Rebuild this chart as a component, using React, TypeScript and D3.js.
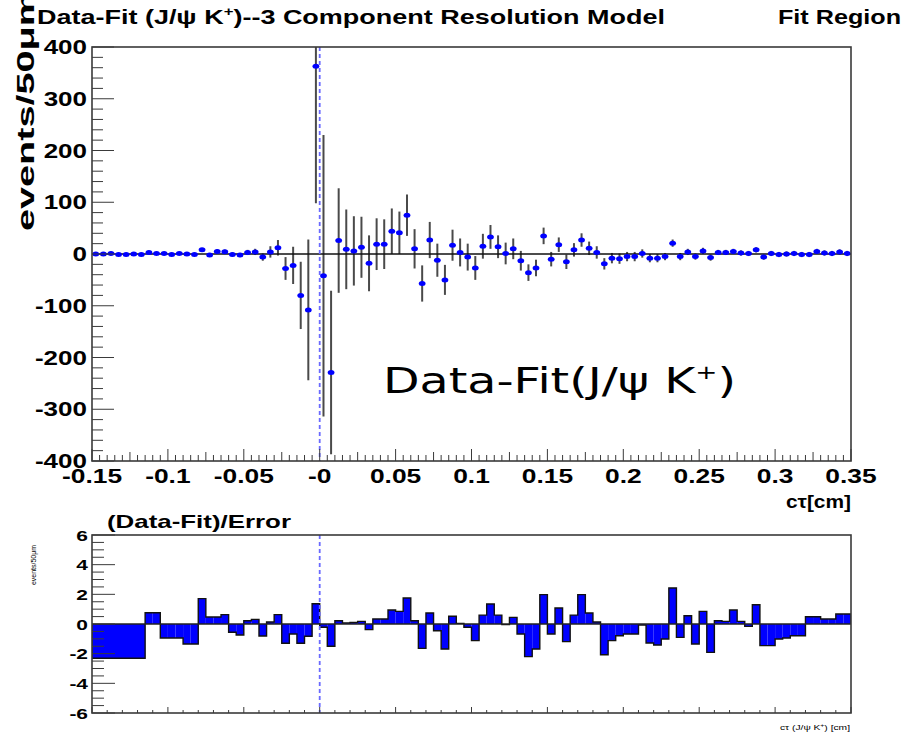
import React from 'react';
import * as d3 from 'd3';

// ---------- data ----------
const BIN_START = -0.15;
const BIN_WIDTH = 0.005;

// Top panel: Data - Fit per 50um bin (100 bins from -0.15 to 0.35)
const fitResidual = [
  0, 0, 1, -1, -1, 0, -1, 3, 1, 1,
  -1, 1, 0, -1, 8, -2, 5, 4.5, -1, -2,
  3, 4, -6, 4, 12, -28, -22, -80, -108, 363,
  -42, -229, 26, 9, 6, 13, -18, 19, 19, 44,
  41, 75, 10, -57, 27, -12, -50, 17, 3, -6,
  -27, 15, 33, 14, 1, 10, -13, -36, -27, 35,
  -10, 18, -15, 8, 27, 11, 3, -19, -8, -9,
  -5, -5, 1, -8, -8, -5, 21, -5, 4, -5,
  6, -7, 3, 3, 5, 2, 1, 8, -6, 1,
  -1, 0, 1, -1, -1, 5, 2, 1, 4, 1,
];
const fitError = [
  3, 3, 3, 3, 3, 3, 3, 3, 3, 3,
  3, 3, 3, 3, 3, 3, 4, 4, 4, 4,
  5, 6, 7, 11, 15, 22, 36, 65, 136, 265,
  272, 158, 101, 77, 67, 59, 54, 50, 48, 44,
  41, 40, 38, 35, 35, 32, 29, 30, 27, 26,
  23, 24, 23, 22, 21, 20, 19, 16, 16, 16,
  14, 14, 14, 13, 13, 13, 12, 11, 10, 10,
  9, 9, 8, 8, 8, 7, 7, 7, 6, 6,
  6, 6, 5, 5, 5, 5, 5, 5, 5, 5,
  5, 5, 5, 5, 5, 5, 5, 5, 5, 5,
];

// Bottom panel: (Data-Fit)/Error, first bin merged, then 50um bins from -0.115
const PULL_WIDE_BIN = [-0.15, -0.115];
const PULL_WIDE_VALUE = -2.31;
const pullValues = [
  0.76, 0.76, -0.94, -0.94, -0.94, -1.35, -1.35, 1.71, 0.47, 0.47,
  0.63, -0.56, -0.74, 0.22, 0.31, -0.81, 0.13, 0.63, -1.3, -0.67,
  -1.3, -0.83, 1.37, -0.22, -1.5, 0.22, 0.07, 0.11, 0.18, -0.38,
  0.34, 0.34, 0.94, 0.85, 1.75, 0.22, -1.64, 0.74, -0.45, -1.69,
  0.52, 0.04, -0.22, -1.12, 0.6, 1.35, 0.6, -0.04, 0.45, -0.67,
  -2.2, -1.69, 1.98, -0.67, 1.08, -1.19, 0.6, 1.98, 0.74, 0.13,
  -2.07, -1.12, -0.79, -0.67, -0.67, -0.07, -1.28, -1.42, -1.01, 2.43,
  -0.9, 0.56, -1.35, 0.85, -1.91, 0.22, 0.18, 0.94, 0.18, -0.16,
  1.3, -1.46, -1.46, -1.01, -0.94, -0.79, -0.79, 0.49, 0.49, 0.34,
  0.34, 0.67, 0.67,
];

const xTickValues = [-0.15, -0.1, -0.05, 0, 0.05, 0.1, 0.15, 0.2, 0.25, 0.3, 0.35];
const xTickLabels = ['-0.15', '-0.1', '-0.05', '-0', '0.05', '0.1', '0.15', '0.2', '0.25', '0.3', '0.35'];
const yTopTicks = [400, 300, 200, 100, 0, -100, -200, -300, -400];
const yTopLabels = ['400', '300', '200', '100', '0', '-100', '-200', '-300', '-400'];
const yBotTicks = [6, 4, 2, 0, -2, -4, -6];
const yBotLabels = ['6', '4', '2', '0', '-2', '-4', '-6'];

// ---------- layout ----------
const W = 904, H = 734;
const L = 92, R = 851;
const T1 = 47, B1 = 461;
const T2 = 535, B2 = 713;
const ROOT_FONT = "'Liberation Sans', Arial, Helvetica, sans-serif";
const FRAME = '#3a3a3a';
const DASH_BLUE = '#6a6aff';

const x = d3.scaleLinear().domain([-0.15, 0.35]).range([L, R]);
const yTop = d3.scaleLinear().domain([-400, 400]).range([B1, T1]);
const yBot = d3.scaleLinear().domain([-6, 6]).range([B2, T2]);

type STProps = { x: number; y: number; sx?: number; rot?: number; anchor?: string; size: number; bold?: boolean; children: React.ReactNode; family?: string };
function SText({ x: tx, y: ty, sx = 1.3, rot = 0, anchor = 'start', size, bold = true, children, family = ROOT_FONT }: STProps) {
  return (
    <text
      transform={`translate(${tx},${ty}) rotate(${rot}) scale(${sx},1)`}
      textAnchor={anchor as any}
      fontFamily={family}
      fontWeight={bold ? 'bold' : 'normal'}
      fontSize={size}
      fill="#000"
    >
      {children}
    </text>
  );
}

export default function App() {
  const centers = fitResidual.map((_, i) => BIN_START + BIN_WIDTH * (i + 0.5));

  const yTopMinor = d3.range(-400, 401, 20);
  const xTopMinor = d3.range(0, 101).map((i) => -0.15 + i * 0.005);
  const xBotMinor = d3.range(0, 51).map((i) => -0.15 + i * 0.01);
  const yBotMinor = d3.range(-6, 6.01, 0.5);

  const pullBins: { x0: number; x1: number; v: number }[] = [
    { x0: PULL_WIDE_BIN[0], x1: PULL_WIDE_BIN[1], v: PULL_WIDE_VALUE },
    ...pullValues.map((v, i) => ({
      x0: PULL_WIDE_BIN[1] + i * BIN_WIDTH,
      x1: PULL_WIDE_BIN[1] + (i + 1) * BIN_WIDTH,
      v,
    })),
  ];
  let step = `M${x(pullBins[0].x0)},${yBot(0)}`;
  pullBins.forEach((b) => {
    step += `L${x(b.x0)},${yBot(b.v)}L${x(b.x1)},${yBot(b.v)}`;
  });
  step += `L${x(pullBins[pullBins.length - 1].x1)},${yBot(0)}`;

  return (
    <svg width={W} height={H} style={{ position: 'absolute', left: 0, top: 0, background: '#fff' }}>
      <defs>
        <clipPath id="clipTop">
          <rect x={L} y={T1} width={R - L} height={B1 - T1} />
        </clipPath>
        <clipPath id="clipBot">
          <rect x={L} y={T2} width={R - L} height={B2 - T2} />
        </clipPath>
      </defs>
      <rect x={0} y={0} width={W} height={H} fill="#fff" />

      {/* Titles */}
      <text x={37} y={24} fontFamily={ROOT_FONT} fontWeight="bold" fontSize={21} textLength={628} lengthAdjust="spacingAndGlyphs">
        Data-Fit (J/ψ K<tspan fontSize={13} dy={-8}>+</tspan><tspan dy={8}>)--3 Component Resolution Model</tspan>
      </text>
      <text x={778} y={24} fontFamily={ROOT_FONT} fontWeight="bold" fontSize={21} textLength={123} lengthAdjust="spacingAndGlyphs">
        Fit Region
      </text>

      {/* y title top (rotated) */}
      <text
        transform={`translate(34,231) rotate(-90)`}
        fontFamily={ROOT_FONT}
        fontWeight="bold"
        fontSize={24}
        textLength={240}
        lengthAdjust="spacingAndGlyphs"
      >
        events/50μm
      </text>

      {/* ---------- TOP PANEL ---------- */}
      <g clipPath="url(#clipTop)">
        {centers.map((c, i) => (
          <line
            key={'e' + i}
            x1={x(c)}
            x2={x(c)}
            y1={yTop(fitResidual[i] + fitError[i])}
            y2={yTop(fitResidual[i] - fitError[i])}
            stroke="#4a4a4a"
            strokeWidth={2}
          />
        ))}
        <line x1={L} x2={R} y1={yTop(0)} y2={yTop(0)} stroke="#111" strokeWidth={1.3} />
        <line x1={x(0)} x2={x(0)} y1={T1} y2={B1} stroke={DASH_BLUE} strokeWidth={1.8} strokeDasharray="4,3" />
        {centers.map((c, i) => (
          <ellipse key={'m' + i} cx={x(c)} cy={yTop(fitResidual[i])} rx={3.4} ry={2.5} fill="#0000ff" />
        ))}
      </g>

      <rect x={L} y={T1} width={R - L} height={B1 - T1} fill="none" stroke={FRAME} strokeWidth={1.6} />
      {yTopMinor.map((v) => {
        const major = v % 100 === 0;
        return (
          <line key={'ytm' + v} x1={L} x2={L + (major ? 22 : 11)} y1={yTop(v)} y2={yTop(v)} stroke={FRAME} strokeWidth={1} />
        );
      })}
      {xTopMinor.map((v, i) => {
        const major = i % 10 === 0;
        const mid = i % 5 === 0;
        return (
          <line key={'xtm' + i} x1={x(v)} x2={x(v)} y1={B1} y2={B1 - (major ? 12 : mid ? 9 : 6)} stroke={FRAME} strokeWidth={1} />
        );
      })}
      {yTopTicks.map((v, i) => (
        <SText key={'ytl' + i} x={87} y={yTop(v) + 7} anchor="end" size={20} sx={1.3}>
          {yTopLabels[i]}
        </SText>
      ))}
      {xTickValues.map((v, i) => (
        <SText key={'xtl' + i} x={x(v)} y={483} anchor="middle" size={20} sx={1.32}>
          {xTickLabels[i]}
        </SText>
      ))}
      <text x={851} y={508} textAnchor="end" fontFamily={ROOT_FONT} fontWeight="bold" fontSize={19} textLength={65} lengthAdjust="spacingAndGlyphs">
        cτ[cm]
      </text>

      {/* Annotation */}
      <text x={383} y={393} fontFamily="'DejaVu Sans', sans-serif" fontSize={36} textLength={353} lengthAdjust="spacingAndGlyphs">
        Data-Fit(J/ψ K<tspan fontSize={20} dy={-14}>+</tspan><tspan dy={14}>)</tspan>
      </text>

      {/* ---------- BOTTOM PANEL ---------- */}
      <text x={107} y={528} fontFamily={ROOT_FONT} fontWeight="bold" fontSize={19} textLength={184} lengthAdjust="spacingAndGlyphs">
        (Data-Fit)/Error
      </text>
      <g clipPath="url(#clipBot)">
        {pullBins.map((b, i) => (
          <rect
            key={'pb' + i}
            x={x(b.x0)}
            width={x(b.x1) - x(b.x0)}
            y={Math.min(yBot(b.v), yBot(0))}
            height={Math.abs(yBot(b.v) - yBot(0))}
            fill="#0000ff"
          />
        ))}
        <path d={step} fill="none" stroke="#111" strokeWidth={1.4} />
        <line x1={L} x2={R} y1={yBot(0)} y2={yBot(0)} stroke="#222" strokeWidth={1.3} />
        <line x1={x(0)} x2={x(0)} y1={T2} y2={B2} stroke={DASH_BLUE} strokeWidth={1.8} strokeDasharray="4,3" />
      </g>
      <rect x={L} y={T2} width={R - L} height={B2 - T2} fill="none" stroke={FRAME} strokeWidth={1.6} />
      {yBotMinor.map((v, i) => {
        const major = Math.abs(v % 2) < 1e-6;
        return (
          <line key={'ybm' + i} x1={L} x2={L + (major ? 23 : 12)} y1={yBot(v)} y2={yBot(v)} stroke={FRAME} strokeWidth={1} />
        );
      })}
      {xBotMinor.map((v, i) => {
        const major = i % 5 === 0;
        return (
          <line key={'xbm' + i} x1={x(v)} x2={x(v)} y1={B2} y2={B2 - (major ? 6 : 3)} stroke={FRAME} strokeWidth={1} />
        );
      })}
      {yBotTicks.map((v, i) => (
        <SText key={'ybl' + i} x={88} y={yBot(v) + 5.5} anchor="end" size={15.5} sx={1.35}>
          {yBotLabels[i]}
        </SText>
      ))}
      <text
        transform={`translate(36,585) rotate(-90)`}
        fontFamily={ROOT_FONT}
        fontSize={7.5}
        textLength={40}
        lengthAdjust="spacingAndGlyphs"
      >
        events/50μm
      </text>
      <text x={850} y={730} textAnchor="end" fontFamily={ROOT_FONT} fontSize={7.5} textLength={70} lengthAdjust="spacingAndGlyphs">
        cτ (J/ψ K<tspan fontSize={5} dy={-3}>+</tspan><tspan dy={3}>) [cm]</tspan>
      </text>
    </svg>
  );
}
